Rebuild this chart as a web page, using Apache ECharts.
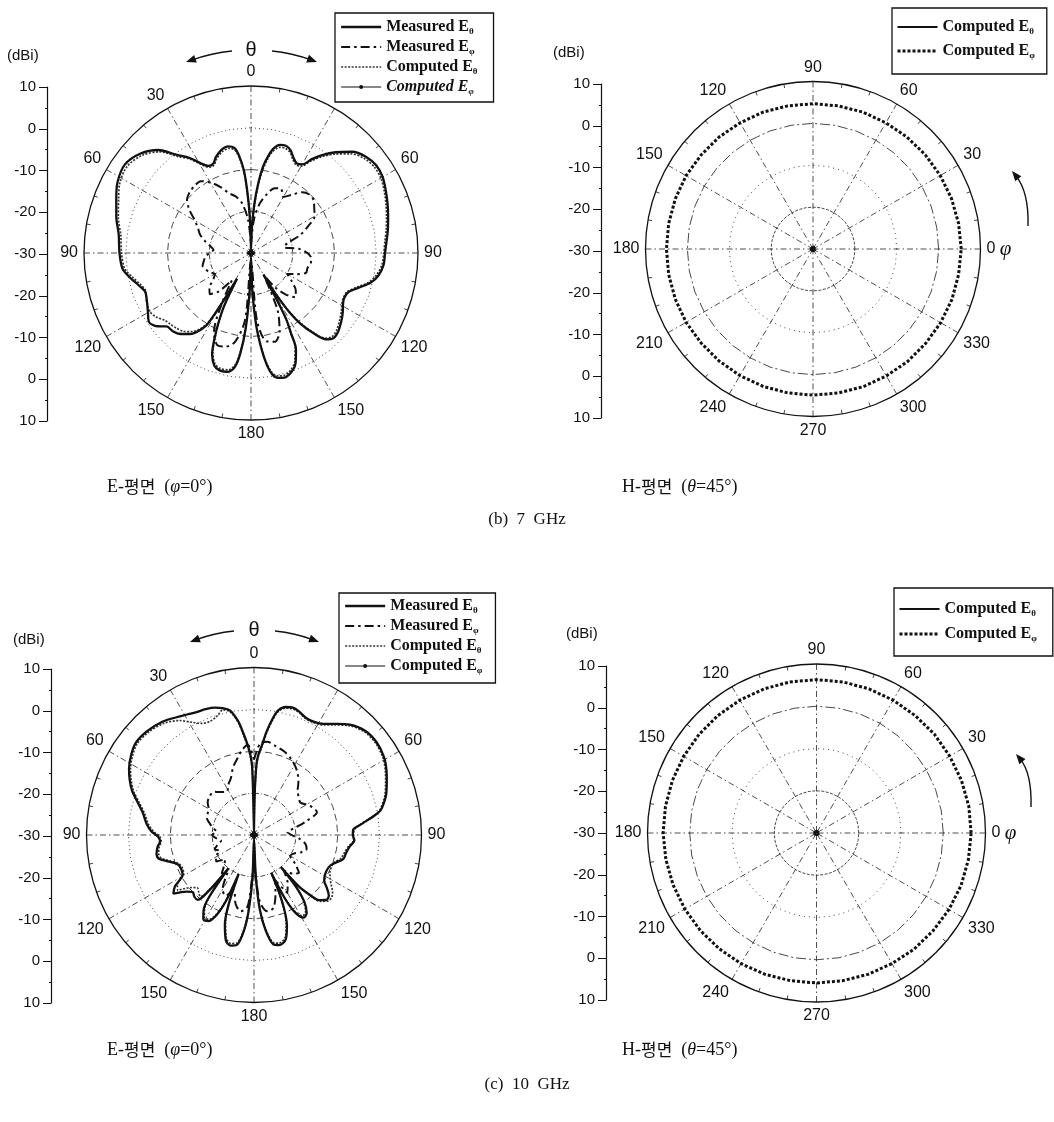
<!DOCTYPE html>
<html>
<head>
<meta charset="utf-8">
<script src="https://cdn.jsdelivr.net/npm/echarts@6/dist/echarts.min.js"></script>
<style>
  html, body { margin: 0; padding: 0; background: #fff; }
  #c { width: 1054px; height: 1122px; }
</style>
</head>
<body>
<div id="c"></div>
<script>
// ---- Radiation pattern data: [angle in degrees, gain in dBi] ----
// E-plane angles run clockwise from the top (0) through 180 at the bottom
// and back up the left side (360 - theta).

// 7 GHz, E-plane
const meas7Theta = [[0,-29],[2,-24],[4,-18],[6,-13],[8,-9],[10,-6.5],[12,-4.5],[15,-3.2],[18,-3.0],[21,-3.6],[24,-5.0],[27,-5.9],[30,-5.5],[33,-3.2],[36,-1.0],[40,1.5],[45,4.3],[50,5.9],[55,6.6],[60,6.4],[65,5.6],[70,4.8],[75,4.0],[80,3.3],[85,2.6],[90,2.1],[95,1.9],[100,1.0],[104,-0.5],[108,-3.0],[112,-4.9],[116,-5.2],[119,-4.8],[123,-3.8],[127,-2.9],[132,-1.9],[136,-1.6],[139,-2.6],[142,-5.5],[145,-9.3],[147,-13],[149,-19],[150,-24],[151,-18],[152,-12],[153.5,-8.5],[155,-4.5],[158,-1.5],[161,0],[165,0.9],[168,0.6],[170,-0.4],[172,-3.0],[174,-7.5],[176,-13],[178,-21],[180,-29],[182,-21],[184,-12],[186,-6],[188,-2.5],[191,-1.0],[195,-0.9],[198,-1.6],[201,-4],[203,-7.5],[205,-11.5],[207,-16],[208.5,-23],[210,-17],[211.5,-10],[214,-7.5],[217,-5.7],[221,-4.3],[225,-3.5],[229,-3.2],[232,-1.5],[236,-0.5],[240,-1.5],[245,-2.5],[250,-3.0],[254,-2.0],[258,-0.6],[263,1.0],[270,1.5],[278,2.0],[285,3.4],[292,4.8],[298,6.2],[305,6.9],[312,5.6],[318,3.2],[323,-0.6],[327,-2.8],[331,-5.5],[334,-6.8],[337,-6.8],[340,-5.5],[344,-4.3],[348,-3.9],[351,-4.5],[353,-6.5],[355,-10],[356.5,-15],[358,-21],[360,-29]];

const comp7Theta = [[0,-29],[2,-25],[4,-19],[6,-14],[8,-10],[10,-7.2],[12,-5.2],[15,-3.8],[18,-3.6],[21,-4.1],[24,-5.4],[27,-6.3],[30,-6.0],[33,-3.8],[36,-1.6],[40,0.9],[45,3.6],[50,5.3],[55,6.0],[60,5.9],[65,5.2],[70,4.4],[75,3.6],[80,2.9],[85,2.2],[90,1.8],[95,1.5],[100,0.5],[104,-1.0],[108,-3.4],[112,-5.2],[116,-5.4],[119,-5.1],[123,-4.2],[127,-3.4],[132,-2.4],[136,-2.1],[139,-3.0],[142,-5.9],[145,-9.8],[147,-13.5],[149,-19.5],[150,-24],[151,-18.5],[152,-12.5],[153.5,-9],[155,-5.0],[158,-2.0],[161,-0.5],[165,0.4],[168,0.1],[170,-0.9],[172,-3.5],[174,-8],[176,-13.5],[178,-21.5],[180,-29],[182,-21.5],[184,-12.5],[186,-6.5],[188,-3.0],[191,-1.5],[195,-1.4],[198,-2.1],[201,-4.5],[203,-8],[205,-12],[207,-16.5],[208.5,-23],[210,-17.5],[211.5,-10.5],[214,-8.0],[217,-6.4],[221,-5.2],[225,-4.6],[229,-4.2],[232,-3.8],[236,-2.6],[240,-2.0],[245,-2.4],[250,-3.2],[254,-2.5],[258,-1.2],[263,0.5],[270,1.0],[278,1.5],[285,2.9],[292,4.2],[298,5.6],[305,6.2],[312,5.0],[318,2.6],[323,-1.1],[327,-3.2],[331,-5.9],[334,-7.2],[337,-7.2],[340,-6.0],[344,-4.8],[348,-4.4],[351,-5.0],[353,-7.0],[355,-10.5],[356.5,-15.5],[358,-21.5],[360,-29]];

const meas7Phi = [[0,-28],[5,-22],[10,-18],[15,-15.5],[20,-13.5],[25,-13],[30,-14.5],[35,-13],[40,-11],[45,-10.2],[50,-10.4],[55,-11.5],[60,-12.4],[65,-15],[70,-17.5],[75,-21],[80,-22],[85,-18.5],[90,-16.5],[95,-15.5],[100,-15.5],[105,-16],[110,-16],[115,-18],[120,-20],[125,-18],[130,-16],[135,-15],[140,-17],[145,-20],[150,-24],[155,-15],[160,-10],[165,-8],[170,-8.5],[175,-14],[180,-28],[185,-14],[190,-8.5],[195,-6.8],[200,-6.5],[205,-9],[210,-16],[215,-22],[220,-18],[225,-16],[230,-17],[235,-19],[240,-20],[245,-19],[250,-18.5],[255,-18],[260,-18.5],[265,-19],[270,-20],[275,-21],[280,-20],[285,-18.5],[290,-17],[295,-16],[300,-14.5],[305,-12],[310,-10],[315,-9.3],[320,-9],[325,-9],[330,-10.5],[335,-12.5],[340,-14.8],[345,-16],[350,-18],[355,-22],[360,-28]];

const comp7Phi = [[0,-29.5],[90,-29.5],[180,-29.5],[270,-29.5],[360,-29.5]];

// 10 GHz, E-plane
const meas10Theta = [[0,-29],[1,-20],[2,-13],[3,-11],[5,-8.5],[7,-5],[9,-2],[11,0.3],[14,1.5],[17,1.8],[20,1.4],[24,0.6],[28,0.6],[32,1.3],[36,2.8],[41,4.9],[47,6.4],[53,6.7],[59,6.2],[64,5.2],[68,4.2],[73,3.0],[76,2.0],[79,0.8],[81,-1.0],[84,-4.0],[87,-6.3],[90,-6.4],[93,-6.0],[97,-7.0],[101,-7.6],[105,-7.9],[109,-9.5],[112,-10.4],[116,-10.7],[120,-10.5],[123,-10.0],[126,-8.5],[129,-7.0],[132,-6.8],[135,-8.0],[137,-10.5],[139,-14],[140,-20],[141,-14],[143,-10],[146,-7.5],[149,-7.0],[152,-9.0],[154,-13],[155.5,-20],[157,-13],[160,-7],[163,-4],[167,-3.0],[170,-3.5],[173,-7],[175.5,-12],[177.5,-20],[180,-29],[182,-20],[184,-12],[186,-7],[189,-3.4],[192,-3.0],[195,-4.0],[198,-7.5],[200,-12],[201.5,-20],[203,-13],[205,-9],[208,-6.7],[211,-6.5],[214,-8.5],[216,-12],[217.5,-20],[219,-13],[221,-9.5],[224,-9.5],[227,-10],[230,-9],[234,-6.2],[237,-7.5],[241,-10.5],[245,-10.8],[249,-10.5],[253,-8.5],[256,-6.6],[259,-6.3],[263,-6.8],[266,-7.5],[269,-7.1],[272,-5.5],[276,-4.2],[281,-3.0],[286,-1.0],[290,1.0],[294,2.5],[298,3.8],[303,5.0],[308,5.8],[314,5.6],[321,4.8],[327,3.6],[331,2.9],[335,2.4],[339,2.2],[343,1.8],[346,1.2],[349,0.3],[352,-2.5],[354,-5.5],[356,-8.5],[357.5,-11],[358.5,-14],[360,-29]];

const comp10Theta = [[0,-29],[1,-21],[2,-14],[3,-11.5],[5,-9],[7,-5.5],[9,-2.5],[11,0],[14,1.2],[17,1.5],[20,1.2],[24,0.4],[28,0.4],[32,1.0],[36,2.5],[41,4.6],[47,6.1],[53,6.4],[59,5.9],[64,4.9],[68,3.9],[73,2.7],[76,1.7],[79,0.5],[81,-1.2],[84,-4.2],[87,-6.0],[90,-6.2],[93,-6.2],[97,-7.3],[101,-8.0],[105,-8.5],[109,-9.8],[112,-10.0],[116,-9.8],[120,-9.0],[123,-8.0],[126,-6.8],[129,-6.2],[132,-6.4],[135,-7.6],[137,-10.0],[139,-14],[140,-20],[141,-14],[143,-10.5],[146,-8],[149,-7.5],[152,-9.5],[154,-13.5],[155.5,-20],[157,-13.5],[160,-7.5],[163,-4.5],[167,-3.5],[170,-4.0],[173,-7.5],[175.5,-12.5],[177.5,-20],[180,-29],[182,-20],[184,-12.5],[186,-7.5],[189,-3.9],[192,-3.5],[195,-4.5],[198,-8],[200,-12.5],[201.5,-20],[203,-13.5],[205,-9.5],[208,-7.2],[211,-7.0],[214,-9.0],[216,-12.5],[217.5,-20],[219,-13.5],[221,-10.5],[224,-11],[227,-11.5],[230,-10.5],[234,-7.5],[237,-8.2],[241,-10.8],[245,-11.2],[249,-10.8],[253,-9.0],[256,-7.2],[259,-6.8],[263,-7.2],[266,-7.8],[269,-7.5],[272,-6.0],[276,-4.6],[281,-3.4],[286,-1.4],[290,0.6],[294,2.1],[298,3.4],[303,4.6],[308,5.4],[314,5.2],[321,4.3],[327,2.6],[331,0.8],[335,-0.6],[339,-0.9],[343,-0.2],[346,0.8],[349,0.0],[352,-2.8],[354,-6],[356,-9],[357.5,-11.5],[358.5,-14.5],[360,-29]];

const meas10Phi = [[0,-12],[4,-8],[8,-7.5],[14,-8.2],[20,-8.8],[27,-10],[34,-11.6],[40,-13.5],[45,-15.3],[50,-16],[55,-16.5],[60,-15.5],[65,-14.5],[70,-14],[75,-17],[80,-20],[85,-22],[90,-21],[95,-19],[100,-17.5],[105,-17],[110,-18],[115,-19.5],[120,-20],[125,-18],[130,-16],[135,-17],[140,-19],[145,-16],[150,-14],[155,-18],[160,-15],[165,-12],[170,-11.5],[175,-14],[180,-22],[185,-13],[190,-11.5],[195,-13],[200,-16],[205,-14],[210,-15],[215,-19],[220,-18],[225,-20],[230,-21],[235,-19],[240,-19.5],[245,-21],[250,-20],[255,-21],[260,-22],[265,-21],[270,-20],[275,-21],[280,-20],[285,-19],[290,-18],[295,-17.8],[300,-17.5],[305,-16.5],[310,-16],[317,-15.9],[322,-17],[328,-17.8],[333,-16.5],[338,-15.3],[343,-13],[348,-11.2],[352,-9.5],[356,-8.4],[360,-12]];

const comp10Phi = [[0,-29.5],[90,-29.5],[180,-29.5],[270,-29.5],[360,-29.5]];

// H-plane (theta = 45 deg), phi measured counter-clockwise from the right
const hAngles = [0,10,20,30,40,50,60,70,80,90,100,110,120,130,140,150,160,170,180,190,200,210,220,230,240,250,260,270,280,290,300,310,320,330,340,350,360];
const h7Phi    = [5.4,5.3,5.2,5.1,5.0,4.9,4.8,4.8,4.7,4.7,4.7,4.8,4.8,4.9,4.9,5.0,5.0,5.0,5.0,5.0,5.0,5.0,4.9,4.9,4.9,4.9,4.9,4.9,4.9,5.0,5.0,5.1,5.1,5.2,5.3,5.3,5.4];
const h7Theta  = [-29.5,-29.5,-29.5,-29.5,-29.5,-29.5,-29.5,-29.5,-29.5,-29.5,-29.5,-29.5,-29.5,-29.5,-29.5,-29.5,-29.5,-29.5,-29.5,-29.5,-29.5,-29.5,-29.5,-29.5,-29.5,-29.5,-29.5,-29.5,-29.5,-29.5,-29.5,-29.5,-29.5,-29.5,-29.5,-29.5,-29.5];
const h10Phi   = [6.6,6.6,6.5,6.4,6.4,6.3,6.3,6.3,6.3,6.3,6.3,6.3,6.3,6.3,6.3,6.3,6.3,6.3,6.3,6.2,6.1,6.0,5.9,5.8,5.7,5.6,5.5,5.5,5.5,5.6,5.7,5.9,6.0,6.2,6.4,6.5,6.6];
const h10Theta = [-29.5,-29.5,-29.5,-29.5,-29.5,-29.5,-29.5,-29.5,-29.5,-29.5,-29.5,-29.5,-29.5,-29.5,-29.5,-29.5,-29.5,-29.5,-29.5,-29.5,-29.5,-29.5,-29.5,-29.5,-29.5,-29.5,-29.5,-29.5,-29.5,-29.5,-29.5,-29.5,-29.5,-29.5,-29.5,-29.5,-29.5];

// Gain scale (dBi): centre of each plot is -30, rim is +10
const gainMin = -30, gainMax = 10, gainStep = 10;
const ringLevels = [-20, -10, 0];
// Side scale runs 10 ... -30 (centre) ... 10; stored as signed offsets
const sideTicks = [-40, -30, -20, -10, 0, 10, 20, 30, 40];

// ---- drawing ----
const ink = '#111';
const chart = echarts.init(document.getElementById('c'));

const toPolar = pairs => pairs.map(p => [p[1], p[0]]);
const withAngles = vals => vals.map((v, i) => [v, hAngles[i]]);

const polar = [
  { center: [251, 253], radius: 167 },
  { center: [813, 249], radius: 167.5 },
  { center: [254, 835], radius: 167.5 },
  { center: [816.5, 833], radius: 169 }
];

const spoke = { show: true, lineStyle: { color: '#222', width: 0.8, type: [6, 3, 1.5, 3] } };
const rim = { show: true, lineStyle: { color: ink, width: 1.3 } };
const sans = 'Liberation Sans';
const serif = 'Liberation Serif';

function eAngleAxis(i) {
  return {
    polarIndex: i, type: 'value', min: 0, max: 360, interval: 30,
    startAngle: 90, clockwise: true,
    axisLine: rim,
    axisTick: { show: false, inside: true },
    minorTick: { show: true, splitNumber: 3, length: 4, lineStyle: { color: ink, width: 0.8 } },
    splitLine: spoke,
    axisLabel: {
      color: ink, fontFamily: sans, fontSize: 16, margin: 6,
      // the right-hand 30 sits under the legend box
      formatter: v => (v === 30 || v === 360) ? '' : String(v <= 180 ? v : 360 - v)
    }
  };
}
function hAngleAxis(i) {
  return {
    polarIndex: i, type: 'value', min: 0, max: 360, interval: 30,
    startAngle: 0, clockwise: false,
    axisLine: rim,
    axisTick: { show: false, inside: true },
    minorTick: { show: true, splitNumber: 3, length: 4, lineStyle: { color: ink, width: 0.8 } },
    splitLine: spoke,
    axisLabel: {
      color: ink, fontFamily: sans, fontSize: 16, margin: 6,
      formatter: v => v === 360 ? '' : (v === 0 ? '{n|0} {p|φ}' : String(v)),
      rich: {
        n: { fontFamily: sans, fontSize: 16, color: ink },
        p: { fontFamily: serif, fontStyle: 'italic', fontSize: 21, color: ink }
      }
    }
  };
}
const radiusAxis = [0, 1, 2, 3].map(i => ({
  polarIndex: i, type: 'value', min: gainMin, max: gainMax, interval: gainStep,
  axisLine: { show: false }, axisTick: { show: false }, axisLabel: { show: false },
  splitLine: { show: false }
}));

// concentric gain rings drawn through each polar's radius scale
const eRingDash = [[5, 2, 1, 2], [7, 4], [1, 3]];
const hRingDash = [[3, 1.5], [1, 4], [10, 3, 2, 3]];
function rings(pi, dashes) {
  return ringLevels.map((lv, k) => ({
    type: 'line', coordinateSystem: 'polar', polarIndex: pi, silent: true, z: 1,
    symbol: 'none', data: hAngles.map(a => [lv, a]),
    lineStyle: { color: '#333', width: 0.9, type: dashes[k] }
  }));
}

const N = {
  mt: 'Measured Eθ', mp: 'Measured Eφ', ct: 'Computed Eθ', cp: 'Computed Eφ',
  ht: 'Computed Eθ (H-plane)', hp: 'Computed Eφ (H-plane)'
};
const styles = {
  mt: { color: ink, width: 2.3 },
  mp: { color: ink, width: 2, type: [9, 4, 2.5, 4] },
  ct: { color: '#333', width: 1.7, type: [2, 1.5] },
  cp: { color: ink, width: 1.2 },
  ht: { color: ink, width: 2.6 },
  hp: { color: ink, width: 3, type: [3, 2] }
};

function eSeries(pi, mt, ct, mp, cp) {
  return [
    { name: N.mt, type: 'line', coordinateSystem: 'polar', polarIndex: pi, z: 4, symbol: 'none', smooth: 0.3,
      data: toPolar(mt), lineStyle: styles.mt, itemStyle: { color: ink } },
    { name: N.mp, type: 'line', coordinateSystem: 'polar', polarIndex: pi, z: 3, symbol: 'none', smooth: 0.3,
      data: toPolar(mp), lineStyle: styles.mp, itemStyle: { color: ink } },
    { name: N.ct, type: 'line', coordinateSystem: 'polar', polarIndex: pi, z: 3, symbol: 'none', smooth: 0.3,
      data: toPolar(ct), lineStyle: styles.ct, itemStyle: { color: ink } },
    { name: N.cp, type: 'line', coordinateSystem: 'polar', polarIndex: pi, z: 3, symbol: 'circle', symbolSize: 4,
      data: toPolar(cp), lineStyle: styles.cp, itemStyle: { color: ink } }
  ];
}
function hSeries(pi, ht, hp) {
  return [
    { name: N.ht, type: 'line', coordinateSystem: 'polar', polarIndex: pi, z: 4, symbol: 'none',
      data: withAngles(ht), lineStyle: styles.ht, itemStyle: { color: ink } },
    { name: N.hp, type: 'line', coordinateSystem: 'polar', polarIndex: pi, z: 3, symbol: 'none',
      data: withAngles(hp), lineStyle: styles.hp, itemStyle: { color: ink } }
  ];
}

// legend text with subscripts
const rich = {
  t: { fontFamily: serif, fontWeight: 'bold', fontSize: 16, lineHeight: 18, color: ink },
  ti: { fontFamily: serif, fontWeight: 'bold', fontStyle: 'italic', fontSize: 16, lineHeight: 18, color: ink },
  s: { fontFamily: serif, fontWeight: 'bold', fontSize: 9, lineHeight: 9, verticalAlign: 'bottom', color: ink },
  si: { fontFamily: serif, fontWeight: 'bold', fontStyle: 'italic', fontSize: 9, lineHeight: 9, verticalAlign: 'bottom', color: ink }
};
function legendText(name, italicPhi) {
  const sub = name.indexOf('θ') >= 0 ? 'θ' : 'φ';
  const word = name.startsWith('Measured') ? 'Measured E' : 'Computed E';
  if (italicPhi && name === N.cp) return '{ti|' + word + '}{si|' + sub + '}';
  return '{t|' + word + '}{s|' + sub + '}';
}
const noMark = { color: 'rgba(0,0,0,0)', borderColor: 'rgba(0,0,0,0)', borderWidth: 0 };
function legendItem(key) {
  const s = styles[key];
  return {
    name: N[key],
    itemStyle: key === 'cp' ? { color: ink, borderWidth: 0 } : noMark,
    lineStyle: { color: s.color, width: key === 'ht' ? 2 : s.width, type: s.type || 'solid' }
  };
}
function legend(left, top, keys, padding, gap, italicPhi) {
  return {
    orient: 'vertical', left: left, top: top, data: keys.map(legendItem), selectedMode: false,
    itemWidth: 40, itemHeight: 5, itemGap: gap, padding: padding,
    borderColor: ink, borderWidth: 1.3, backgroundColor: '#fff',
    formatter: n => legendText(n, italicPhi),
    textStyle: { rich: rich, color: ink }
  };
}

// side gain scales
const sideGrids = [
  { left: 47, top: 87, width: 1, height: 334 },
  { left: 601, top: 84, width: 1, height: 334 },
  { left: 51, top: 669, width: 1, height: 334 },
  { left: 606, top: 666, width: 1, height: 334 }
].map(g => Object.assign({ containLabel: false, outerBoundsMode: 'none' }, g));

const xAxis = [0, 1, 2, 3].map(i => ({ gridIndex: i, type: 'value', show: false, min: 0, max: 1 }));
const yAxis = [];
[0, 1, 2, 3].forEach(i => {
  yAxis.push({
    gridIndex: i, type: 'value', min: sideTicks[0], max: sideTicks[sideTicks.length - 1], interval: 10,
    axisLine: { show: true, lineStyle: { color: ink, width: 1.2 } },
    axisTick: { show: true, length: 8, lineStyle: { color: ink, width: 1 } },
    axisLabel: { color: ink, fontFamily: sans, fontSize: 15, margin: 11, formatter: v => String(Math.abs(v) + gainMin) },
    splitLine: { show: false }
  });
  yAxis.push({
    gridIndex: i, type: 'value', min: sideTicks[0], max: sideTicks[sideTicks.length - 1], interval: 10,
    axisLine: { show: false }, axisLabel: { show: false }, splitLine: { show: false },
    axisTick: { show: false, inside: true },
    minorTick: { show: true, splitNumber: 2, length: 3, lineStyle: { color: ink, width: 1 } }
  });
});

// annotations
function arrow(x1, y1, cx, cy, x2, y2) {
  const dx = x2 - cx, dy = y2 - cy, L = Math.hypot(dx, dy);
  const ux = dx / L, uy = dy / L, px = -uy, py = ux;
  const hl = 10, hw = 4;
  return [
    { type: 'bezierCurve', shape: { x1: x1, y1: y1, cpx1: cx, cpy1: cy, x2: x2 - ux * 6, y2: y2 - uy * 6 },
      style: { stroke: ink, lineWidth: 1.4, fill: null } },
    { type: 'polygon', shape: { points: [[x2, y2], [x2 - ux * hl + px * hw, y2 - uy * hl + py * hw], [x2 - ux * hl - px * hw, y2 - uy * hl - py * hw]] },
      style: { fill: ink } }
  ];
}
function text(x, y, str, font, align) {
  return { type: 'text', x: x, y: y, style: { text: str, font: font, fill: ink, align: align || 'left', verticalAlign: 'middle' } };
}
const capRich = {
  l: { fontFamily: serif, fontSize: 18, color: ink },
  k: { fontFamily: 'Noto Sans CJK KR', fontSize: 17, color: ink },
  i: { fontFamily: serif, fontStyle: 'italic', fontSize: 18, color: ink }
};
function caption(x, y, str) {
  return { type: 'text', x: x, y: y, style: { text: str, rich: capRich, fill: ink, verticalAlign: 'middle' } };
}
const eCap = '{l|E-}{k|평면}{l|  (}{i|φ}{l|=0°)}';
const hCap = '{l|H-}{k|평면}{l|  (}{i|θ}{l|=45°)}';

const graphic = [].concat(
  text(7, 56, '(dBi)', '15px Liberation Sans'),
  text(553, 53, '(dBi)', '15px Liberation Sans'),
  text(13, 640, '(dBi)', '15px Liberation Sans'),
  text(566, 634, '(dBi)', '15px Liberation Sans'),
  text(251, 50, 'θ', '20px Liberation Sans', 'center'),
  text(254, 630, 'θ', '20px Liberation Sans', 'center'),
  arrow(232, 51, 212, 53, 186, 62),
  arrow(272, 51, 292, 53, 317, 62),
  arrow(234, 631, 214, 633, 190, 642),
  arrow(275, 631, 295, 633, 319, 642),
  arrow(1028, 226, 1029, 192, 1012, 171),
  arrow(1031, 807, 1032, 773, 1016, 754),
  caption(107, 487, eCap),
  caption(622, 487, hCap),
  text(527, 520, '(b)  7  GHz', '17px Liberation Serif', 'center'),
  caption(107, 1050, eCap),
  caption(622, 1050, hCap),
  text(527, 1085, '(c)  10  GHz', '17px Liberation Serif', 'center')
);

const option = {
  backgroundColor: '#fff',
  animation: false,
  polar: polar,
  angleAxis: [eAngleAxis(0), hAngleAxis(1), eAngleAxis(2), hAngleAxis(3)],
  radiusAxis: radiusAxis,
  grid: sideGrids,
  xAxis: xAxis,
  yAxis: yAxis,
  legend: [
    legend(335, 13, ['mt', 'mp', 'ct', 'cp'], [6, 16, 6, 5], 3, true),
    legend(892, 8, ['ht', 'hp'], [11, 12, 14, 4], 7, false),
    legend(339, 593, ['mt', 'mp', 'ct', 'cp'], [5, 13, 8, 5], 3, false),
    legend(894, 588, ['ht', 'hp'], [13, 16, 13, 4], 8, false)
  ],
  series: [].concat(
    rings(0, eRingDash), rings(1, hRingDash), rings(2, eRingDash), rings(3, hRingDash),
    eSeries(0, meas7Theta, comp7Theta, meas7Phi, comp7Phi),
    hSeries(1, h7Theta, h7Phi),
    eSeries(2, meas10Theta, comp10Theta, meas10Phi, comp10Phi),
    hSeries(3, h10Theta, h10Phi)
  ),
  graphic: graphic
};
chart.setOption(option);
</script>
</body>
</html>
